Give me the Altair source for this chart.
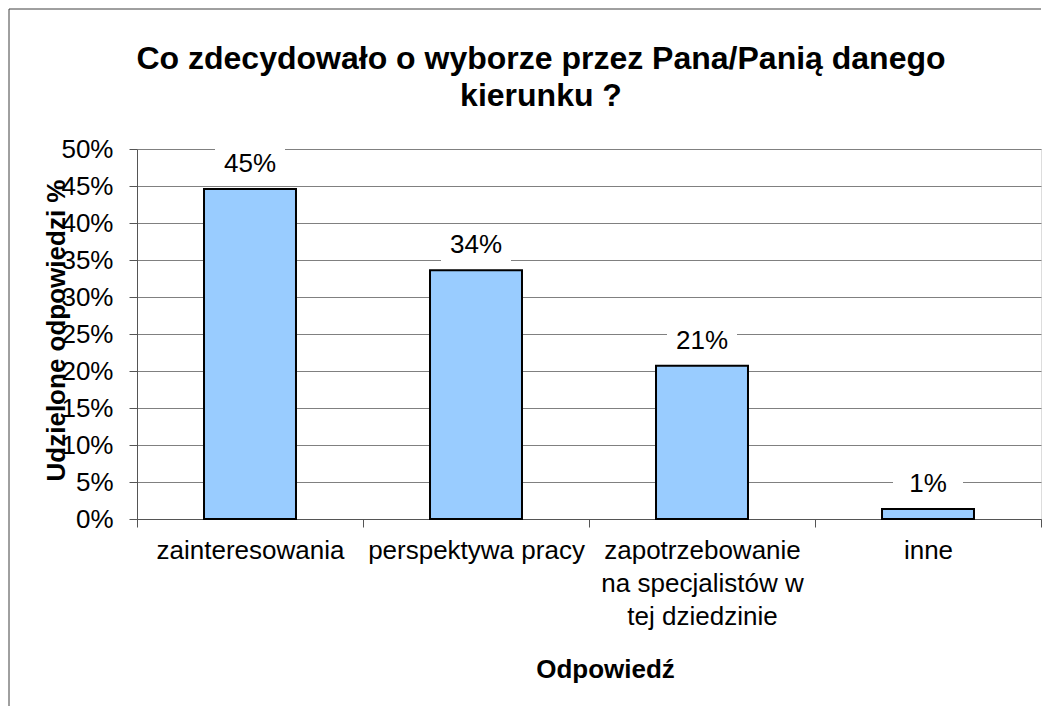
import altair as alt
import pandas as pd

categories = ["zainteresowania", "perspektywa pracy",
              "zapotrzebowanie|na specjalistów w|tej dziedzinie", "inne"]
values = [0.446, 0.336, 0.207, 0.0135]
y_ticks = [0, 0.05, 0.10, 0.15, 0.20, 0.25, 0.30, 0.35, 0.40, 0.45, 0.50]
title_lines = ["Co zdecydowało o wyborze przez Pana/Panią danego", "kierunku ?"]

df = pd.DataFrame({"cat": categories, "val": values})

FONT = "Liberation Sans"
W, H = 904, 370

xenc = alt.X("cat:N", sort=categories,
             scale=alt.Scale(paddingInner=0, paddingOuter=0),
             axis=alt.Axis(title="Odpowiedź", tickBand="extent", labelAngle=0,
                           labelFontSize=26, labelColor="black", labelFont=FONT,
                           labelExpr="split(datum.label, '|')", labelLineHeight=33,
                           labelPadding=10, labelBaseline="top", labelLimit=0,
                           tickSize=8, tickColor="#555555", domainColor="#555555",
                           titleFontSize=26, titleFont=FONT, titleFontWeight="bold",
                           titleColor="black", titleX=468, titleY=150,
                           titleBaseline="middle", grid=False))
yenc = alt.Y("val:Q", scale=alt.Scale(domain=[0, 0.5], nice=False),
             axis=alt.Axis(title="Udzielone odpowiedzi %", values=y_ticks, format=".0%",
                           labelOverlap=False,
                           labelFontSize=26, labelColor="black", labelFont=FONT,
                           labelPadding=16, tickSize=8, tickColor="#555555",
                           domainColor="#555555", gridColor="#808080", gridWidth=1,
                           titleFontSize=26, titleFont=FONT, titleFontWeight="bold",
                           titleColor="black", titleX=-81, titleY=181,
                           titleBaseline="middle", titleAngle=-90))

bars = alt.Chart(df).mark_bar(
    width=alt.RelativeBandSize(0.407), fill="#99CCFF", stroke="black", strokeWidth=2
).encode(x=xenc, y=yenc)

boxes = alt.Chart(df).mark_bar(width=70, fill="white", yOffset=-43, y2Offset=-9).encode(
    x=xenc, y=yenc, y2=alt.Y2("val"))

labels = alt.Chart(df).mark_text(dy=-25, fontSize=26, font=FONT, color="black",
                                 baseline="middle").encode(
    x=xenc, y=yenc, text=alt.Text("val:Q", format=".0%"))

one = pd.DataFrame({"a": [0]})
border_top = alt.Chart(one).mark_rule(color="#404040", strokeWidth=1).encode(
    x=alt.value(-128), x2=alt.value(W), y=alt.value(-140))
border_left = alt.Chart(one).mark_rule(color="#404040", strokeWidth=1).encode(
    x=alt.value(-128), y=alt.value(-140), y2=alt.value(557))
title = alt.Chart(one).mark_text(
    text=title_lines, fontSize=32, font=FONT, fontWeight="bold", color="black",
    align="center", baseline="alphabetic", lineHeight=37
).encode(x=alt.value(404), y=alt.value(-80))

chart = alt.layer(boxes, bars, labels, border_top, border_left, title).properties(
    width=W, height=H, padding=0,
).configure_view(stroke="#808080", strokeWidth=1).configure(background="white")

chart.save("out.html", embed_options={"renderer": "svg", "actions": False})
